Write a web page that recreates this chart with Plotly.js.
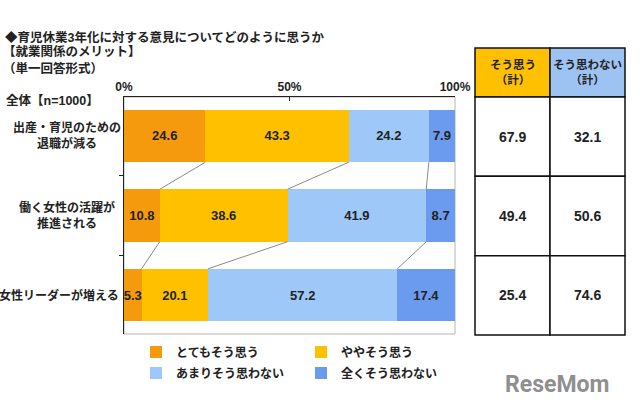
<!DOCTYPE html>
<html>
<head>
<meta charset="utf-8">
<script src="https://cdn.plot.ly/plotly-3.0.1.min.js"></script>
<style>
  html, body { margin: 0; padding: 0; background: #fff; }
  #plot { width: 640px; height: 407px; }
</style>
</head>
<body>
<div id="plot"></div>
<script>
// GOAL: stacked 100% bars of opinions on 3-year childcare leave, with a totals table on the right

// categories (top to bottom) and their labels
let categories = ["出産・育児のための<br>退職が減る", "働く女性の活躍が<br>推進される", "女性リーダーが増える"]
let seriesNames = ["とてもそう思う", "ややそう思う", "あまりそう思わない", "全くそう思わない"]
let seriesColors = ["#F59A0C", "#FFC000", "#9DC8F8", "#6B9BEE"]

// series values, one per category
let veryMuch = [24.6, 10.8, 5.3]
let somewhat = [43.3, 38.6, 20.1]
let notReally = [24.2, 41.9, 57.2]
let notAtAll = [7.9, 8.7, 17.4]

// table on the right
let tableHeaders = ["そう思う<br>（計）", "そう思わない<br>（計）"]
let headerColors = ["#FFC000", "#9DC3F3"]
let tableAgree = [67.9, 49.4, 25.4]
let tableDisagree = [32.1, 50.6, 74.6]

// axis ticks
let tickVals = [0, 50, 100]
let tickLabels = ["0%", "50%", "100%"]

let font = "Liberation Sans, Noto Sans CJK JP, sans-serif"
let ypos = categories.map((c, i) => i)
let barWidth = 0.66

// bar traces
let allSeries = [veryMuch, somewhat, notReally, notAtAll]
let data = []
for (var s = 0; s < allSeries.length; s++)
{
    data.push({
        type: "bar",
        orientation: "h",
        x: allSeries[s],
        y: ypos,
        width: barWidth,
        name: seriesNames[s],
        marker: { color: seriesColors[s], line: { width: 0 } },
        texttemplate: "%{x:.1f}",
        textposition: "inside",
        insidetextanchor: "middle",
        textangle: 0,
        constraintext: "none",
        textfont: { family: font, size: 13, weight: "bold", color: "#222" },
        legend: s < 2 ? "legend" : "legend2",
        hoverinfo: "skip"
    })
}

// connector lines between bars at each cumulative boundary
let lx = []
let ly = []
for (var s = 0; s < allSeries.length - 1; s++)
{
    let cum = ypos.map(i => {
        let t = 0
        for (var k = 0; k <= s; k++) t += allSeries[k][i]
        return t
    })
    for (var i = 0; i < ypos.length - 1; i++)
    {
        lx.push(cum[i], cum[i + 1], null)
        ly.push(ypos[i] + barWidth / 2, ypos[i + 1] - barWidth / 2, null)
    }
}
data.push({
    type: "scatter",
    mode: "lines",
    x: lx,
    y: ly,
    line: { color: "#8a8a8a", width: 1 },
    showlegend: false,
    hoverinfo: "skip",
    cliponaxis: false
})

// table cells and texts
let shapes = []
let annotations = []
let headerTop = -0.5 - 49 / 79.3
for (var j = 0; j < 2; j++)
{
    shapes.push({
        type: "rect", xref: "x2", yref: "y2",
        x0: j, x1: j + 1, y0: headerTop, y1: -0.5,
        fillcolor: headerColors[j], line: { color: "#111", width: 1.5 }
    })
    annotations.push({
        xref: "x2", yref: "y2", x: j + 0.5, y: (headerTop - 0.5) / 2,
        xanchor: "center", yanchor: "middle",
        text: tableHeaders[j], showarrow: false,
        font: { family: font, size: 11.5, weight: "bold", color: "#222" }
    })
    let col = j == 0 ? tableAgree : tableDisagree
    for (var i = 0; i < col.length; i++)
    {
        shapes.push({
            type: "rect", xref: "x2", yref: "y2",
            x0: j, x1: j + 1, y0: i - 0.5, y1: i + 0.5,
            fillcolor: "#fff", line: { color: "#111", width: 1.5 }
        })
        annotations.push({
            xref: "x2", yref: "y2", x: j + 0.5, y: i,
            xanchor: "center", yanchor: "middle",
            text: col[i].toFixed(1), showarrow: false,
            font: { family: font, size: 14, weight: "bold", color: "#222" }
        })
    }
}

// category labels on the left
let labelCenters = [67, 67, 59]
for (var i = 0; i < categories.length; i++)
{
    annotations.push({
        xref: "paper", yref: "y", x: labelCenters[i] / 640, y: ypos[i],
        xanchor: "center", yanchor: "middle",
        text: categories[i], showarrow: false, align: "center",
        font: { family: font, size: 12, weight: "bold", color: "#222" }
    })
}

// titles
let titles = [
    ["◆育児休業3年化に対する意見についてどのように思うか", 3, 37],
    ["【就業関係のメリット】", 1, 52],
    ["（単一回答形式）", 1, 68],
    ["全体【n=1000】", 4, 100]
]
titles.forEach(t => {
    annotations.push({
        xref: "paper", yref: "paper", x: t[1] / 640, y: 1 - t[2] / 407,
        xanchor: "left", yanchor: "middle", text: t[0], showarrow: false,
        font: { family: font, size: 12.5, weight: "bold", color: "#222" }
    })
})

annotations.push({
    xref: "paper", yref: "paper", x: 611 / 640, y: 1 - 384 / 407,
    xanchor: "right", yanchor: "middle", text: "ReseMom", showarrow: false,
    font: { family: "Roboto, Liberation Sans, sans-serif", size: 23, weight: "bold", color: "#8f8f8f" }
})

// light frame round the plot area
shapes.push({
    type: "rect", xref: "x domain", yref: "y domain",
    x0: 0, x1: 1, y0: 0, y1: 1, layer: "below",
    line: { color: "#b5b5b5", width: 1 }
})

let legendFont = { family: font, size: 12, weight: "bold", color: "#222" }

let layout = {
    width: 640,
    height: 407,
    margin: { l: 0, r: 0, t: 0, b: 0 },
    paper_bgcolor: "#fff",
    plot_bgcolor: "#fff",
    barmode: "stack",
    bargap: 0,
    uniformtext: { mode: "show", minsize: 13 },
    font: { family: font, color: "#222" },
    xaxis: {
        domain: [124 / 640, 455 / 640],
        range: [0, 100],
        side: "top",
        tickmode: "array",
        tickvals: tickVals,
        ticktext: tickLabels,
        ticks: "inside",
        ticklen: 4,
        tickcolor: "#222",
        showline: true,
        linecolor: "#222",
        linewidth: 1,
        showgrid: false,
        zeroline: false,
        fixedrange: true,
        tickfont: { family: font, size: 12, weight: "bold", color: "#222" }
    },
    yaxis: {
        domain: [(407 - 334) / 407, (407 - 97) / 407],
        range: [2.49, -0.49],
        tickvals: [0.5, 1.5],
        ticks: "outside",
        ticklen: 4,
        tickcolor: "#222",
        showticklabels: false,
        showline: true,
        linecolor: "#222",
        linewidth: 1,
        showgrid: false,
        zeroline: false,
        fixedrange: true
    },
    xaxis2: {
        domain: [473 / 640, 627 / 640],
        anchor: "y2",
        range: [-2 / 75, 2 + 2 / 75],
        visible: false,
        fixedrange: true
    },
    yaxis2: {
        domain: [(407 - 337) / 407, (407 - 46) / 407],
        anchor: "x2",
        range: [2.5 + 0.025, headerTop - 0.025],
        visible: false,
        fixedrange: true
    },
    legend: {
        orientation: "h",
        x: 136 / 640, y: 1 - 352 / 407,
        xanchor: "left", yanchor: "middle",
        entrywidth: 120, entrywidthmode: "pixels",
        itemwidth: 30,
        traceorder: "normal",
        bgcolor: "rgba(0,0,0,0)",
        font: legendFont
    },
    legend2: {
        orientation: "h",
        x: 136 / 640, y: 1 - 373 / 407,
        xanchor: "left", yanchor: "middle",
        entrywidth: 120, entrywidthmode: "pixels",
        itemwidth: 30,
        traceorder: "normal",
        bgcolor: "rgba(0,0,0,0)",
        font: legendFont
    },
    shapes: shapes,
    annotations: annotations
}

Plotly.newPlot("plot", data, layout, { displayModeBar: false, staticPlot: true })
</script>
</body>
</html>
